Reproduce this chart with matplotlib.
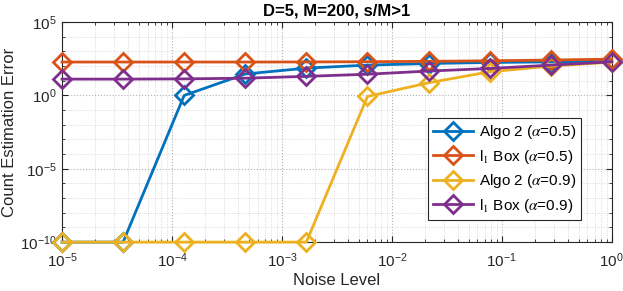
import numpy as np
import matplotlib.pyplot as plt
from matplotlib.ticker import LogLocator, NullFormatter

noise = np.logspace(-5, 0, 10)
algo2_a05 = [1e-10, 1e-10, 1.0, 29, 73, 117, 150, 177, 195, 218]
l1box_a05 = [190, 190, 190, 190, 192, 200, 212, 230, 260, 300]
algo2_a09 = [1e-10, 1e-10, 1e-10, 1e-10, 1e-10, 0.85, 7.3, 41, 100, 186]
l1box_a09 = [13, 13, 13.5, 15, 20, 28, 46, 69, 117, 195]

labels = [r'Algo 2 ($\alpha$=0.5)', r'l$_1$ Box ($\alpha$=0.5)',
          r'Algo 2 ($\alpha$=0.9)', r'l$_1$ Box ($\alpha$=0.9)']
colors = ['#0072BD', '#D95319', '#EDB120', '#7E2F8E']

plt.rcParams['font.family'] = ['Liberation Sans', 'DejaVu Sans']
plt.rcParams['mathtext.fontset'] = 'stix'

fig = plt.figure(figsize=(6.23, 2.91), dpi=100)
ax = fig.add_axes([0.0995, 0.168, 0.8825, 0.756])

for ys, lab, c in zip([algo2_a05, l1box_a05, algo2_a09, l1box_a09], labels, colors):
    ax.plot(noise, ys, color=c, lw=2, marker='D', ms=9, mfc='none', mew=2,
            label=lab, clip_on=False, zorder=3)

ax.set_xscale('log')
ax.set_yscale('log')
ax.set_xlim(1e-5, 1)
ax.set_ylim(1e-10, 1e5)
ax.set_yticks([1e-10, 1e-5, 1e0, 1e5])
ax.yaxis.set_minor_locator(LogLocator(base=10, subs=(1.0,), numticks=30))
ax.yaxis.set_minor_formatter(NullFormatter())
ax.xaxis.set_minor_locator(LogLocator(base=10, subs=np.arange(2, 10), numticks=30))
ax.xaxis.set_minor_formatter(NullFormatter())

ax.grid(True, which='major', ls=':', color='#b0b0b0', lw=0.8)
ax.grid(True, which='minor', ls=':', color='#d0d0d0', lw=0.6)
ax.tick_params(which='both', direction='in', top=True, right=True, colors='#262626', labelsize=11)
ax.tick_params(which='major', length=4)
ax.tick_params(which='minor', length=2)
ax.tick_params(axis='x', pad=7)
ax.tick_params(axis='y', pad=4)
for s in ax.spines.values():
    s.set_color('#262626')
    s.set_linewidth(0.8)

ax.set_xlabel('Noise Level', fontsize=12, color='#262626', labelpad=2)
ax.set_ylabel('Count Estimation Error', fontsize=12, color='#262626', labelpad=2)
ax.set_title('D=5, M=200, s/M>1', fontsize=12, fontweight='bold', pad=5)

leg = ax.legend(loc='upper left', bbox_to_anchor=(0.665, 0.564), fontsize=11,
                handlelength=2.6, fancybox=False, edgecolor='#262626',
                framealpha=1, borderpad=0.35, labelspacing=0.42,
                handletextpad=0.4, borderaxespad=0)
leg.get_frame().set_linewidth(0.8)

fig.savefig('out.png', dpi=100)
